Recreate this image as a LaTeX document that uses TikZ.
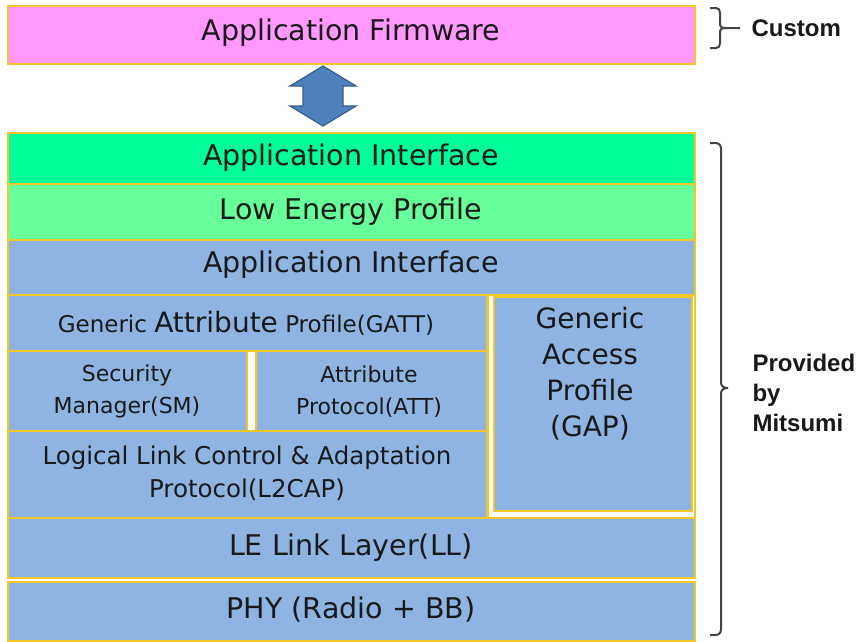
\documentclass[tikz,border=0pt]{standalone}
\usepackage{fontspec}
\setmainfont{DejaVu Sans}
\newfontfamily\boldlab{Liberation Sans}
\definecolor{pinkF}{HTML}{FF99FF}
\definecolor{greenA}{HTML}{00FF99}
\definecolor{greenB}{HTML}{66FF99}
\definecolor{blueL}{HTML}{8EB4E3}
\definecolor{goldB}{RGB}{242,200,40}
\definecolor{arrowF}{HTML}{4F81BD}
\definecolor{arrowD}{HTML}{385D8A}
\definecolor{braceC}{HTML}{444444}
\tikzset{
  layer/.style={draw=goldB, line width=1.6pt, fill=blueL},
  lab/.style={font=\fontsize{28.5}{33}\selectfont, text=black!90, align=center},
  slab/.style={font=\fontsize{23}{28}\selectfont, text=black!90, align=center},
  brk/.style={draw=braceC, line width=2pt, line join=round},
  side/.style={font=\boldlab\bfseries\fontsize{24}{30}\selectfont, align=left, anchor=west, text=black!90}
}
\begin{document}
\begin{tikzpicture}[x=1pt,y=-1pt]
\useasboundingbox (0,0) rectangle (857,641);
% top
\draw[layer, fill=pinkF] (8,6) rectangle (695,64);
\node[lab] (fw) at (351,33) {Application Firmware};
% double arrow
\coordinate (arr) at (323,96);
\draw[draw=arrowD, fill=arrowF, line width=1.2pt, line join=miter]
  (323,66) -- (356,86) -- (343,86) -- (343,106) -- (356,106) -- (323,126)
  -- (290,106) -- (303,106) -- (303,86) -- (290,86) -- cycle;
% stack
\draw[layer, fill=greenA] (8,133) rectangle (695,184);
\node[lab] (ai1) at (351,158) {Application Interface};
\draw[layer, fill=greenB] (8,184) rectangle (695,240);
\node[lab] (lep) at (351,212) {Low Energy Profile};
\draw[layer] (8,240) rectangle (695,295);
\node[lab] (ai2) at (351,265) {Application Interface};
\draw[layer] (8,295) rectangle (487,351);
\node[slab] (gatt) at (246,323) {Generic {\fontsize{28}{33}\selectfont Attribute} Profile(GATT)};
\draw[layer] (8,351) rectangle (247,431);
\node[slab, font=\fontsize{22}{32}\selectfont] (sm) at (127,391) {Security\\Manager(SM)};
\draw[layer] (256,351) rectangle (487,433);
\node[slab, font=\fontsize{22}{32}\selectfont] (att) at (369,392) {Attribute\\Protocol(ATT)};
\draw[layer] (8,431) rectangle (487,518);
\node[slab, font=\fontsize{24.5}{33}\selectfont] (l2) at (247,473) {Logical Link Control \& Adaptation\\Protocol(L2CAP)};
\draw[draw=goldB, line width=1.6pt, fill=white] (488,295) rectangle (695,518);
\draw[layer] (494,297) rectangle (692,511);
\node[lab, font=\fontsize{28}{36}\selectfont] (gap) at (590,374) {Generic\\Access\\Profile\\(GAP)};
\draw[layer] (8,518) rectangle (695,578);
\node[lab] (ll) at (351,548) {LE Link Layer(LL)};
\draw[layer] (8,582) rectangle (695,641);
\node[lab] (phy) at (351,610) {PHY (Radio + BB)};
% custom brace
\draw[brk] (710,8) -- (716,8) .. controls (719,8) and (720,10) .. (720,13) -- (720,25)
  .. controls (720,27) and (722,28) .. (726,28) -- (740,28);
\draw[brk] (726,28) .. controls (722,28) and (720,29) .. (720,31) -- (720,43)
  .. controls (720,46) and (719,48) .. (716,48) -- (710,48);
\node[side] (cust) at (748,28) {Custom};
% provided brace
\draw[brk] (710,143) -- (715,143) .. controls (719,143) and (721,145) .. (721,149) -- (721,382)
  .. controls (721,386) and (723,388) .. (728,388);
\draw[brk] (728,388) .. controls (723,388) and (721,390) .. (721,394) -- (721,629)
  .. controls (721,633) and (719,635) .. (715,635) -- (710,635);
\node[side] (prov) at (749,393) {Provided\\by\\Mitsumi};
\end{tikzpicture}
\end{document}
